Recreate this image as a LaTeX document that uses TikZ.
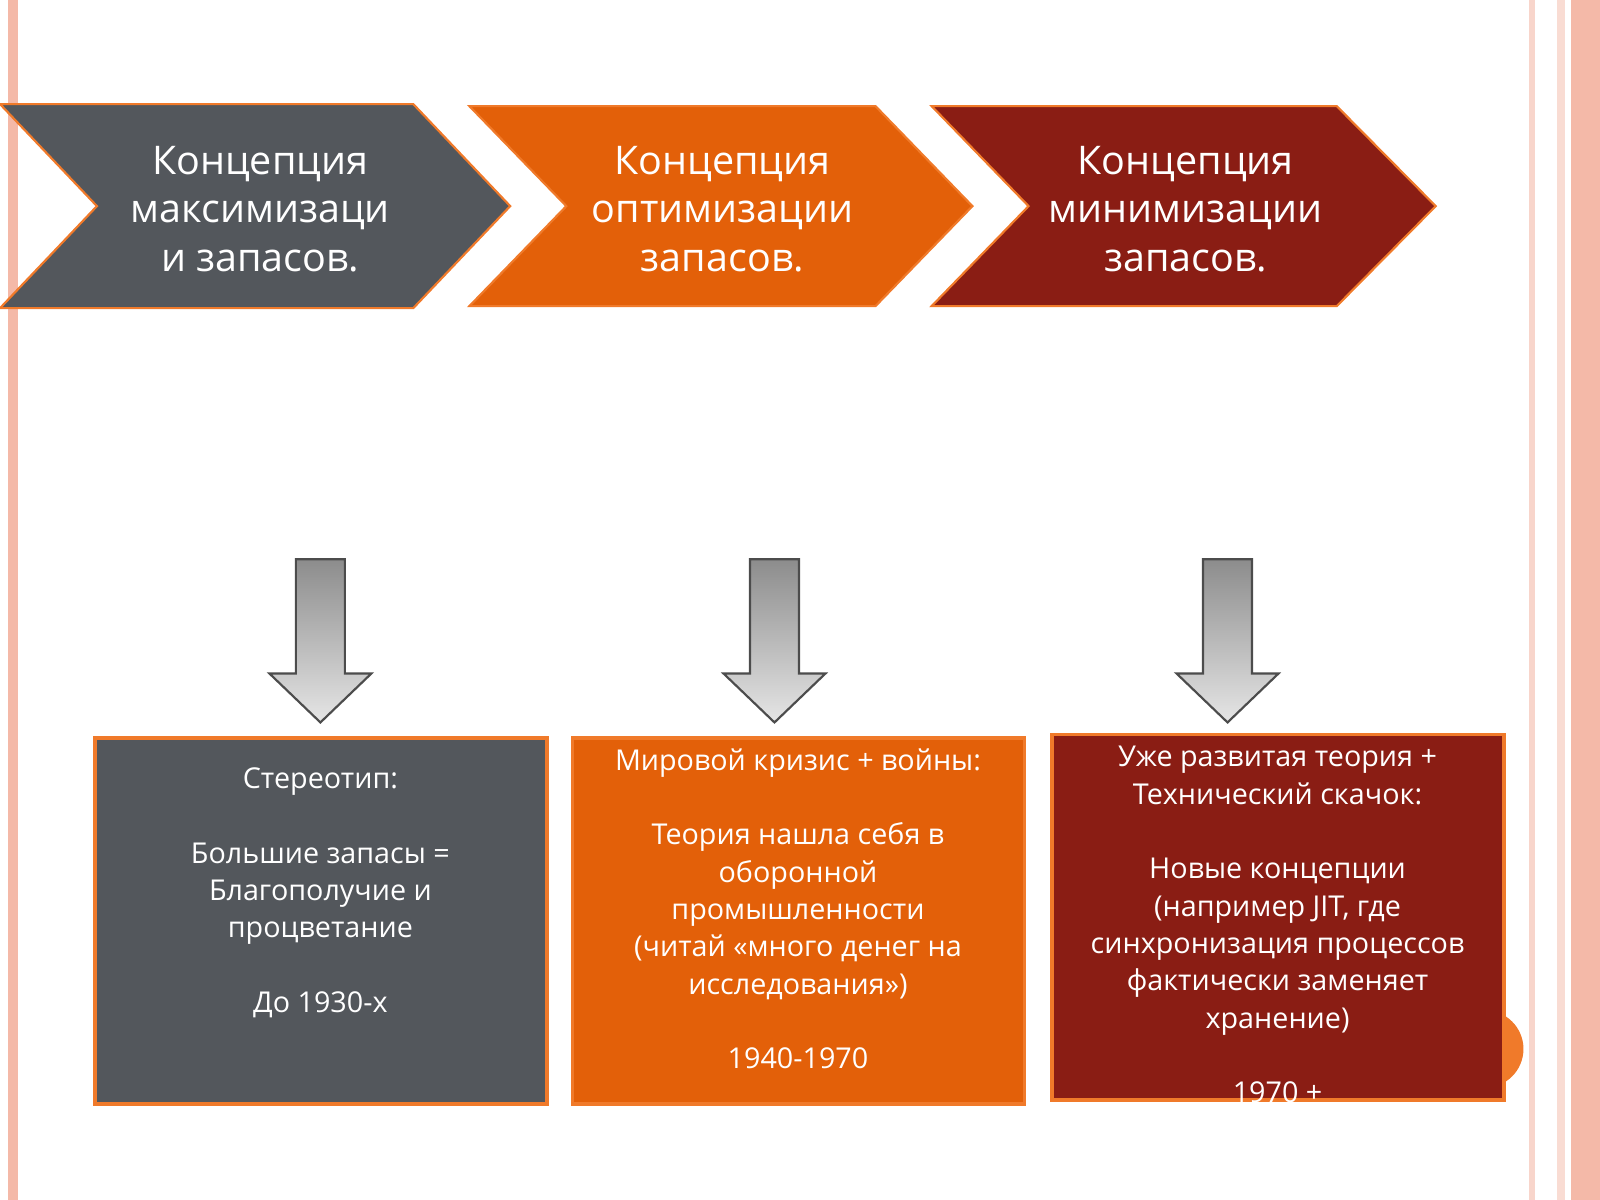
\documentclass[tikz,border=0pt]{standalone}
\usepackage{fontspec}
\setmainfont{Open Sans}
\usetikzlibrary{positioning,calc}
\definecolor{slate}{HTML}{53575C}
\definecolor{flame}{HTML}{E36009}
\definecolor{brick}{HTML}{8A1D14}
\definecolor{edgeorange}{HTML}{F07A2A}
\definecolor{rim}{HTML}{F4B9A8}
\tikzset{x=0.01cm, y=-0.01cm,
        chevron/.style={draw=edgeorange, line width=0.6pt}, % Outlined arrow band
        chevtext/.style={text=white, align=center, font=\fontsize{11}{13.4}\selectfont},
        infobox/.style={draw=edgeorange, line width=1pt},
        infotext/.style={text=white, align=center, anchor=north, font=\fontsize{8}{10.4}\selectfont},
        downarrow/.style={draw=black!70, line width=0.6pt, top color=black!45, bottom color=black!10}
        }
\begin{document}
\begin{tikzpicture}
    \useasboundingbox (0,0) rectangle (1568,1176);
    % page frame
    \fill[rim] (8,0) rectangle (18,1176);
    \fill[rim!60] (1498,0) rectangle (1504,1176);
    \fill[rim!50] (1526,0) rectangle (1534,1176);
    \fill[rim] (1540,0) rectangle (1568,1176);

    % chevrons
    \fill[chevron, fill=slate] (0,102) -- (405,102) -- (500,202) -- (405,302) -- (0,302) -- (95,202) -- cycle;
    \fill[chevron, fill=flame] (460,104) -- (858,104) -- (953,202) -- (858,300) -- (460,300) -- (555,202) -- cycle;
    \fill[chevron, fill=brick] (913,104) -- (1310,104) -- (1407,202) -- (1310,300) -- (913,300) -- (1008,202) -- cycle;
    \node[chevtext] (max) at (255,205) {Концепция\\максимизаци\\и запасов.};
    \node[chevtext] (opt) at (708,205) {Концепция\\оптимизации\\запасов.};
    \node[chevtext] (min) at (1162,205) {Концепция\\минимизации\\запасов.};

    % arrows
    \foreach \cx in {314,759,1203}
        \draw[downarrow] (\cx-24,548) -- (\cx+24,548) -- (\cx+24,660) -- (\cx+50,660)
            -- (\cx,708) -- (\cx-50,660) -- (\cx-24,660) -- cycle;

    % boxes
    \fill[edgeorange] (1455,1028) circle (38);
    \filldraw[infobox, fill=slate] (93,723) rectangle (536,1082);
    \filldraw[infobox, fill=flame] (561,723) rectangle (1004,1082);
    \filldraw[infobox, fill=brick] (1031,720) rectangle (1474,1078);

    \node[infotext] (past) at (314,740) {Стереотип:\\[10.4pt]Большие запасы =\\Благополучие и\\процветание\\[10.4pt]До 1930-х};
    \node[infotext] (war) at (782,721) {Мировой кризис + войны:\\[10.4pt]Теория нашла себя в\\оборонной\\промышленности\\(читай «много денег на\\исследования»)\\[10.4pt]1940-1970};
    \node[infotext] (jit) at (1252,719) {Уже развитая теория +\\Технический скачок:\\[10.4pt]Новые концепции\\(например JIT, где\\синхронизация процессов\\фактически заменяет\\хранение)\\[10.4pt]1970 +};
\end{tikzpicture}
\end{document}
